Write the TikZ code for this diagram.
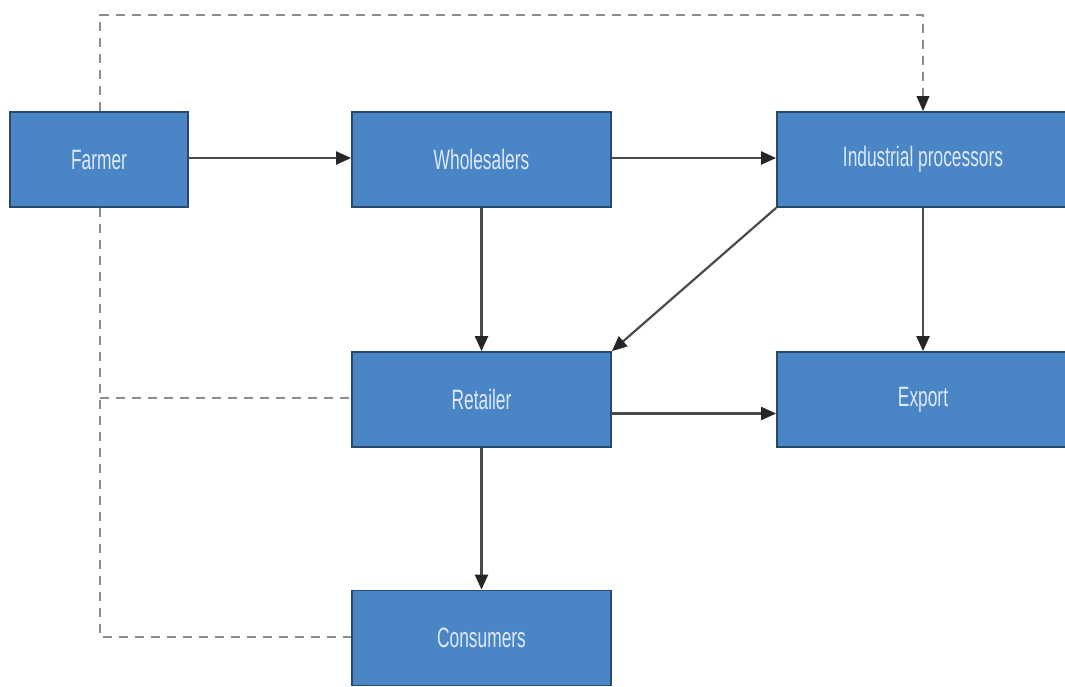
\documentclass[tikz,border=0pt]{standalone}
\usepackage{fontspec}
\setmainfont{Liberation Sans}[FakeStretch=0.62]
\usetikzlibrary{arrows.meta,calc}
\definecolor{boxfill}{HTML}{4A86C6}
\definecolor{boxline}{HTML}{27496E}
\definecolor{boxtext}{HTML}{DDE9F6}
\definecolor{flowline}{HTML}{4A4A4A}
\definecolor{linkline}{HTML}{8C8C8C}
\begin{document}
\begin{tikzpicture}[x=1pt,y=-1pt,
  stage/.style={draw=boxline,line width=1.8pt,fill=boxfill,minimum height=95pt,
    inner sep=0pt,text=boxtext,font=\fontsize{28}{30}\selectfont},
  flow/.style={draw=flowline,line width=2.2pt,
    -{Triangle[length=15pt,width=13pt,color=black!85]}},
  link/.style={draw=linkline,line width=2.8pt,dash pattern=on 9pt off 7pt}]
\useasboundingbox (0,0) rectangle (1065,686);
\fill[white] (0,0) rectangle (1065,686);
% supply-chain stages
\node[stage,minimum width=178pt] (farm) at (99,159.5) {Farmer};
\node[stage,minimum width=259pt] (whole) at (481.5,159.5) {Wholesalers};
\node[stage,minimum width=292pt] (ind) at (923,159.5) {Industrial processors};
\node[stage,minimum width=259pt] (ret) at (481.5,399.5) {Retailer};
\node[stage,minimum width=292pt] (exp) at (923,399.5) {Export};
\node[stage,minimum width=259pt] (cons) at (481.5,638) {Consumers};
% direct sales of the farmer
\coordinate (tl) at (100,15);
\coordinate (tr) at (923,15);
\coordinate (bl) at (100,637);
\coordinate (ml) at (100,398);
\draw[link] (farm.north -| tl) -- (tl) -- (tr)
  -- ([yshift=15pt]ind.north);
\fill[black!85] (ind.north) -- ++(-6.5,-15) -- ++(13,0) -- cycle;
\draw[link] (farm.south -| bl) -- (bl) -- (bl -| cons.west);
\draw[link] (ml) -- (ml -| ret.west);
% flows of goods
\draw[flow] (farm.east |- 0,158) -- (whole.west |- 0,158);
\draw[flow] (whole.east |- 0,158) -- (ind.west |- 0,158);
\draw[flow] (whole.south) -- (ret.north);
\draw[flow] (ind.south west) -- (ret.north east);
\draw[flow] (ind.south) -- (exp.north);
\draw[flow] ($(ret.east)+(0,14)$) -- ($(exp.west)+(0,14)$);
\draw[flow] (ret.south) -- (cons.north);
\end{tikzpicture}
\end{document}
